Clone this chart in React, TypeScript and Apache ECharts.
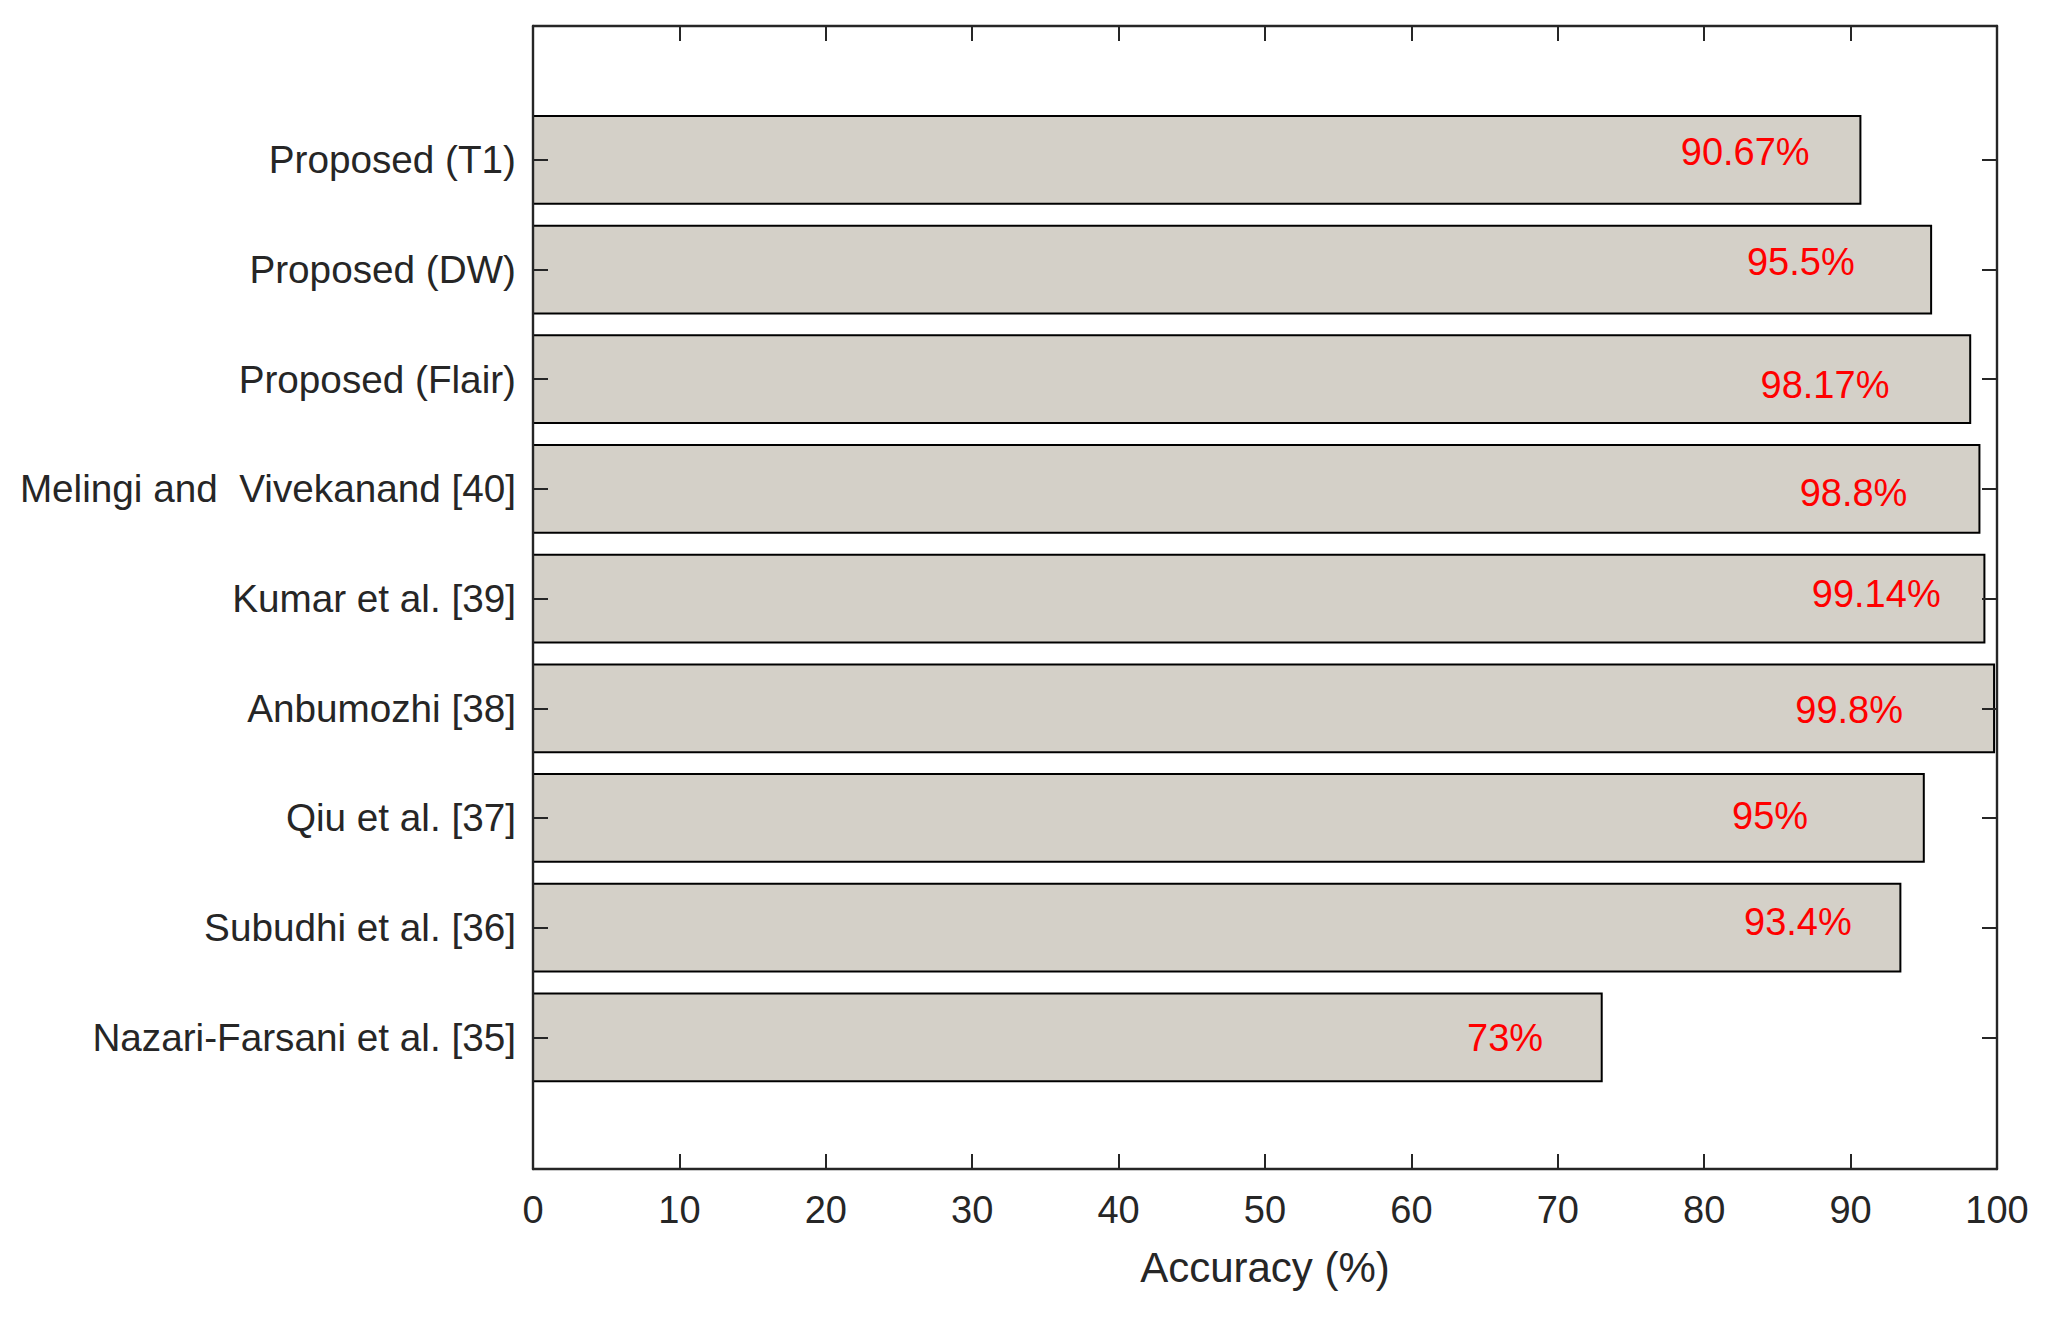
import React, { useEffect, useRef } from "react";
import * as echarts from "echarts";

// Categories from top to bottom
const categories: string[] = [
  "Proposed (T1)",
  "Proposed (DW)",
  "Proposed (Flair)",
  "Melingi and  Vivekanand [40]",
  "Kumar et al. [39]",
  "Anbumozhi [38]",
  "Qiu et al. [37]",
  "Subudhi et al. [36]",
  "Nazari-Farsani et al. [35]",
];

const accuracy: number[] = [90.67, 95.5, 98.17, 98.8, 99.14, 99.8, 95, 93.4, 73];
const valueLabels: string[] = ["90.67%", "95.5%", "98.17%", "98.8%", "99.14%", "99.8%", "95%", "93.4%", "73%"];

const xTicks: number[] = [0, 10, 20, 30, 40, 50, 60, 70, 80, 90, 100];

// Hand-placed annotation anchors (x in axis units, y shift in category units)
const labelAt: number[] = [82.8, 86.6, 88.25, 90.2, 91.75, 89.9, 84.5, 86.4, 66.4];
const labelDy: number[] = [-0.07, -0.07, 0.05, 0.04, -0.04, 0.02, -0.02, -0.05, 0.01];

const FONT = '"Liberation Sans", Arial, Helvetica, sans-serif';
const AX = "#262626";

export default function App() {
  const ref = useRef<HTMLDivElement | null>(null);

  useEffect(() => {
    if (!ref.current) return;
    const chart = echarts.init(ref.current, null, { renderer: "svg" });
    const positions = categories.map((_, i) => i + 1);

    const barData = accuracy.map((v, i) => [v, positions[i]]);
    const labelData = accuracy.map((v, i) => [labelAt[i], positions[i] + labelDy[i], i]);

    const axisLine = { show: true, onZero: false, lineStyle: { color: AX, width: 2.4 } };
    const tick = { show: true, inside: true, length: 15, lineStyle: { color: AX, width: 2 } };

    chart.setOption({
      animation: false,
      backgroundColor: "#ffffff",
      grid: { left: 533, right: 62, top: 26, bottom: 150, containLabel: false },
      xAxis: [
        {
          type: "value",
          position: "bottom",
          z: 10,
          min: 0,
          max: 100,
          interval: 10,
          axisLine,
          axisTick: tick,
          splitLine: { show: false },
          axisLabel: {
            show: true,
            color: AX,
            fontFamily: FONT,
            fontSize: 38,
            margin: 22,
            customValues: xTicks,
          },
          name: "Accuracy (%)",
          nameLocation: "middle",
          nameGap: 77,
          nameTextStyle: { color: AX, fontFamily: FONT, fontSize: 42 },
        },
        {
          type: "value",
          position: "top",
          z: 10,
          min: 0,
          max: 100,
          interval: 10,
          axisLine,
          axisTick: tick,
          splitLine: { show: false },
          axisLabel: { show: false },
        },
      ],
      yAxis: [
        {
          type: "value",
          position: "left",
          z: 10,
          inverse: true,
          min: -0.22,
          max: 10.2,
          axisLine,
          axisTick: { ...tick, customValues: positions },
          splitLine: { show: false },
          axisLabel: {
            show: true,
            color: AX,
            fontFamily: FONT,
            fontSize: 38.7,
            margin: 17,
            customValues: positions,
            formatter: (v: number) => categories[Math.round(v) - 1] ?? "",
          },
        },
        {
          type: "value",
          position: "right",
          z: 10,
          inverse: true,
          min: -0.22,
          max: 10.2,
          axisLine,
          axisTick: { ...tick, customValues: positions },
          splitLine: { show: false },
          axisLabel: { show: false, customValues: positions },
        },
      ],
      series: [
        {
          type: "custom",
          xAxisIndex: 0,
          yAxisIndex: 0,
          data: barData,
          renderItem: (params: any, api: any) => {
            const v = api.value(0);
            const y = api.value(1);
            const s = api.coord([0, y]);
            const e = api.coord([v, y]);
            const h = Math.abs(api.size([0, 0.8])[1]);
            return {
              type: "rect",
              shape: { x: s[0], y: s[1] - h / 2, width: e[0] - s[0], height: h },
              style: { fill: "#D4D0C8", stroke: "#000000", lineWidth: 2 },
            };
          },
          z: 1,
        },
        {
          type: "custom",
          xAxisIndex: 0,
          yAxisIndex: 0,
          data: labelData,
          renderItem: (params: any, api: any) => {
            const p = api.coord([api.value(0), api.value(1)]);
            const idx = api.value(2);
            return {
              type: "text",
              x: p[0],
              y: p[1],
              style: {
                text: valueLabels[idx],
                fill: "#FF0000",
                font: `38px ${FONT}`,
                align: "center",
                verticalAlign: "middle",
              },
            };
          },
          z: 3,
        },
      ],
    });

    return () => chart.dispose();
  }, []);

  return (
    <div
      ref={ref}
      style={{ position: "fixed", left: 0, top: 0, width: 2059, height: 1319, background: "#fff" }}
    />
  );
}
